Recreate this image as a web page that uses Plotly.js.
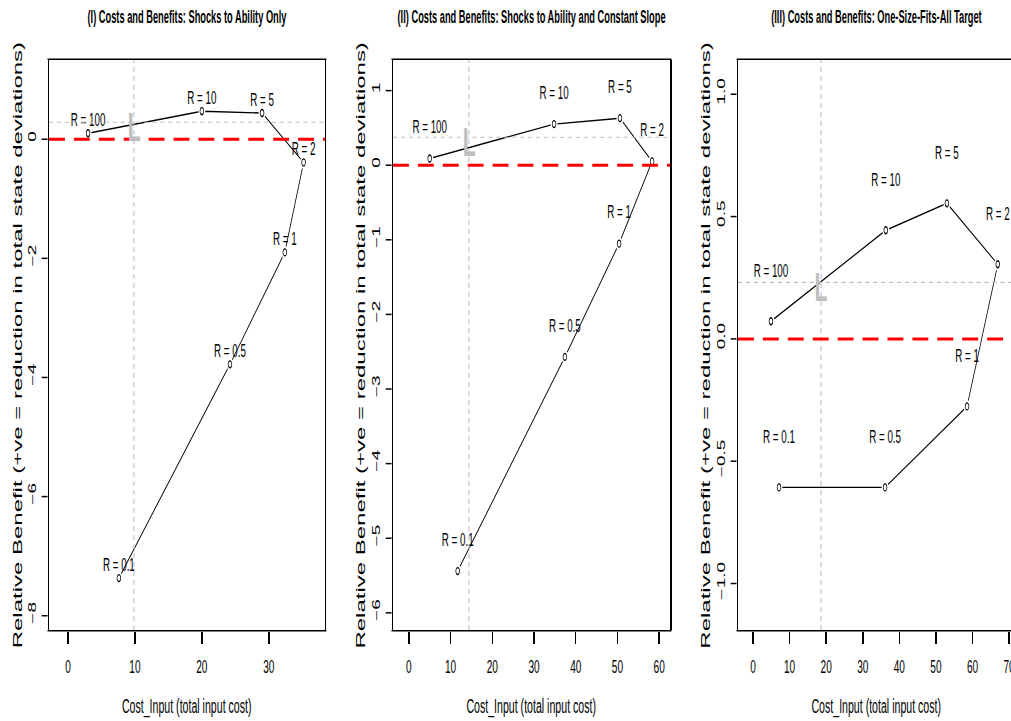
<!DOCTYPE html>
<html>
<head>
<meta charset="utf-8">
<script src="https://cdn.plot.ly/plotly-3.0.1.min.js"></script>
<style>
  html, body { margin: 0; padding: 0; overflow: hidden; background: #fff; }
  #chart { width: 1915px; height: 721px; transform-origin: 0 0; }
</style>
</head>
<body>
<div id="chart"></div>
<script>
// Point labels (regularisation weight R), shared by all three panels
const rLabels = ['R = 100', 'R = 10', 'R = 5', 'R = 2', 'R = 1', 'R = 0.5', 'R = 0.1'];

// (I) Shocks to ability only
const costA    = [3.0, 20.0, 29.0, 35.2, 32.4, 24.2, 7.6];
const benefitA = [0.10, 0.47, 0.44, -0.39, -1.90, -3.78, -7.37];

// (II) Shocks to ability and constant slope
const costB    = [5.0, 34.8, 50.6, 58.3, 50.4, 37.4, 11.7];
const benefitB = [0.09, 0.55, 0.63, 0.05, -1.05, -2.57, -5.44];

// (III) One-size-fits-all target
const costC    = [4.9, 36.3, 53.0, 66.9, 58.5, 36.1, 7.1];
const benefitC = [0.072, 0.444, 0.554, 0.305, -0.276, -0.607, -0.607];

// Benchmark ("L") cost / benefit per panel
const benchCost    = [9.85, 14.4, 18.6];
const benchBenefit = [0.285, 0.375, 0.231];

const panelTitles = [
  '(I) Costs and Benefits: Shocks to Ability Only',
  '(II) Costs and Benefits: Shocks to Ability and Constant Slope',
  '(III) Costs and Benefits: One-Size-Fits-All Target'
];
const xTitle = 'Cost_Input (total input cost)';
const yTitle = 'Relative Benefit (+ve = reduction in total state deviations)';

// Horizontal squeeze applied to the finished drawing
const SQUEEZE = 0.53;

const panels = [
  { cost: costA, benefit: benefitA, labelLift: 0.2,
    dom: [0.04828, 0.32021], xr: [-2.84, 38.4], yr: [-8.24, 1.33],
    xt: [0, 10, 20, 30], yt: [-8, -6, -4, -2, 0], yfmt: 'd', ytx: 0.0165 },
  { cost: costB, benefit: benefitB, labelLift: 0.4,
    dom: [0.38721, 0.66016], xr: [-3.8, 62.6], yr: [-6.23, 1.41],
    xt: [0, 10, 20, 30, 40, 50, 60], yt: [-6, -5, -4, -3, -2, -1, 0, 1], yfmt: 'd', ytx: 0.3550 },
  { cost: costC, benefit: benefitC, labelLift: 0.2,
    dom: [0.72715, 1.0], xr: [-4.1, 71.6], yr: [-1.19, 1.14],
    xt: [0, 10, 20, 30, 40, 50, 60, 70], yt: [-1, -0.5, 0, 0.5, 1], yfmt: '.1f', ytx: 0.6950 }
];

const FONT = 'Liberation Sans, Arial, Helvetica, sans-serif';
const traces = [];
const shapes = [];
const annotations = [];
const layout = {
  width: 1915, height: 721,
  margin: { l: 0, r: 0, t: 60, b: 91 },
  paper_bgcolor: '#ffffff', plot_bgcolor: '#ffffff',
  showlegend: false,
  font: { family: FONT, color: '#000' }
};

panels.forEach((p, i) => {
  const n = i === 0 ? '' : String(i + 1);
  const xa = 'x' + n, ya = 'y' + n;

  layout['xaxis' + n] = {
    domain: p.dom, range: p.xr, anchor: ya,
    tickmode: 'array', tickvals: p.xt,
    ticks: 'outside', ticklen: 12, tickwidth: 2.8, tickcolor: '#000',
    ticklabelstandoff: 7,
    tickfont: { family: FONT, size: 19, color: '#000' },
    showline: true, mirror: true, linecolor: '#000', linewidth: 1.6,
    showgrid: false, zeroline: false
  };
  layout['yaxis' + n] = {
    domain: [0, 1], range: p.yr, anchor: xa,
    tickmode: 'array', tickvals: p.yt, tickformat: p.yfmt,
    tickangle: -90,
    ticks: 'outside', ticklen: 11, tickwidth: 1.5, tickcolor: '#000',
    ticklabelstandoff: 3,
    tickfont: { family: FONT, size: 19, color: '#000' },
    showline: true, mirror: true, linecolor: '#000', linewidth: 2.8,
    showgrid: false, zeroline: false
  };

  // connecting line
  traces.push({
    type: 'scatter', mode: 'lines', x: p.cost, y: p.benefit,
    xaxis: xa, yaxis: ya, line: { color: '#000', width: 1.4 },
    hoverinfo: 'skip'
  });
  // white discs leave a small gap around each point
  traces.push({
    type: 'scatter', mode: 'markers', x: p.cost, y: p.benefit,
    xaxis: xa, yaxis: ya,
    marker: { symbol: 'circle', size: 13, color: '#fff', line: { width: 0 } },
    hoverinfo: 'skip'
  });
  // open circle points
  traces.push({
    type: 'scatter', mode: 'markers', x: p.cost, y: p.benefit,
    xaxis: xa, yaxis: ya,
    marker: { symbol: 'circle-open', size: 7, color: '#000', line: { width: 1.3, color: '#000' } },
    hoverinfo: 'skip'
  });
  // R labels just above each point
  traces.push({
    type: 'scatter', mode: 'text', x: p.cost,
    y: p.benefit.map(v => v + p.labelLift),
    text: rLabels, textposition: 'middle center',
    textfont: { family: FONT, size: 18.5, color: '#000' },
    xaxis: xa, yaxis: ya, hoverinfo: 'skip'
  });

  // benchmark guide lines
  shapes.push({
    type: 'line', xref: xa + ' domain', yref: ya, x0: 0, x1: 1,
    y0: benchBenefit[i], y1: benchBenefit[i],
    line: { color: '#bebebe', width: 1.1, dash: '8px,7px' }
  });
  shapes.push({
    type: 'line', xref: xa, yref: ya + ' domain', x0: benchCost[i], x1: benchCost[i],
    y0: 0, y1: 1,
    line: { color: '#bebebe', width: 2, dash: '5px,4px' }
  });
  // zero-benefit reference
  shapes.push({
    type: 'line', xref: xa + ' domain', yref: ya, x0: 0, x1: 1, y0: 0, y1: 0,
    line: { color: '#ff0000', width: 3, dash: '30px,17px' }
  });

  // benchmark marker, centred on the guide-line crossing
  annotations.push({
    text: '<b>L</b>', xref: xa, yref: ya, x: benchCost[i], y: benchBenefit[i],
    xanchor: 'center', yanchor: 'middle', yshift: -5, showarrow: false,
    font: { family: FONT, size: 40, color: '#bebebe' }
  });

  const mid = (p.dom[0] + p.dom[1]) / 2;
  annotations.push({
    text: '<b>' + panelTitles[i] + '</b>', xref: 'paper', yref: 'paper',
    x: mid, y: 1.0754, xanchor: 'center', yanchor: 'middle', showarrow: false,
    font: { family: FONT, size: 17.5, color: '#000' }
  });
  annotations.push({
    text: xTitle, xref: 'paper', yref: 'paper',
    x: mid, y: -0.135, xanchor: 'center', yanchor: 'middle', showarrow: false,
    font: { family: FONT, size: 20, color: '#000' }
  });
  annotations.push({
    text: yTitle, xref: 'paper', yref: 'paper', textangle: -90,
    x: p.ytx, y: 0.5, xanchor: 'center', yanchor: 'middle', showarrow: false,
    font: { family: FONT, size: 24, color: '#000' }
  });
});

layout.shapes = shapes;
layout.annotations = annotations;

const el = document.getElementById('chart');
Plotly.newPlot(el, traces, layout, { displayModeBar: false, staticPlot: true })
  .then(() => { el.style.transform = 'scaleX(' + SQUEEZE + ')'; });
</script>
</body>
</html>
